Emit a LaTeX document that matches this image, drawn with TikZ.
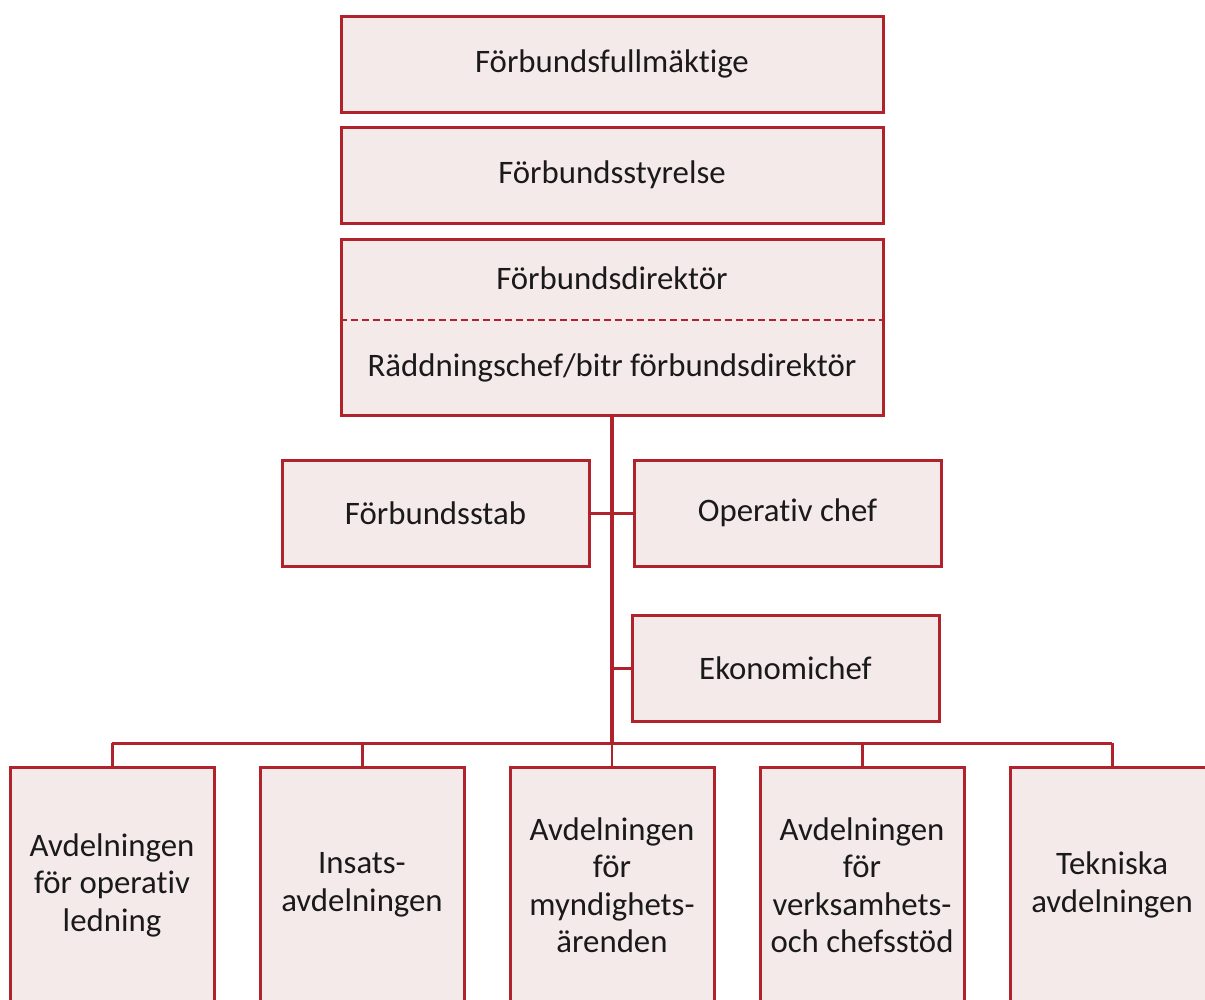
\documentclass[tikz,border=0pt]{standalone}
\usepackage{fontspec}
\setmainfont{Carlito}[Ligatures=NoCommon]
\usetikzlibrary{positioning}
\definecolor{kant}{HTML}{B0222C}
\definecolor{fyll}{HTML}{F5EAEA}
\definecolor{textgra}{HTML}{1A1A1A}
\tikzset{box/.style={draw=kant, fill=fyll, line width=3pt, text=textgra, align=center, inner sep=0pt, font=\fontsize{32.8}{37.5}\selectfont}}
\tikzset{topbox/.style={box, minimum width=542pt, minimum height=96pt}}
\tikzset{midbox/.style={box, minimum width=307pt, minimum height=106pt}}
\tikzset{avd/.style={box, minimum width=204pt, minimum height=236pt}}
\tikzset{lank/.style={draw=kant, line width=3pt}}
\tikzset{stam/.style={draw=kant, line width=4pt}}
\tikzset{etikett/.style={text=textgra, inner sep=0pt, font=\fontsize{32.8}{37.5}\selectfont}}

\begin{document}
\begin{tikzpicture}[x=1pt, y=-1pt]
        \useasboundingbox (0,0) rectangle (1205,999);
        \clip (0,0) rectangle (1205,999);

        % ledning
        \node[topbox] (fm) at (612,64) {Förbundsfullmäktige};
        \node[topbox, below=12pt of fm] (fs) {Förbundsstyrelse};
        \node[topbox, minimum height=176pt, below=13pt of fs] (fd) {};
        \node[etikett] (fdtext) at (612,278) {Förbundsdirektör};
        \node[etikett] (rctext) at (612,368) {Räddningschef/bitr förbundsdirektör};
        \coordinate (delning) at (612,320);
        \draw[draw=kant, line width=2pt, dash pattern=on 7pt off 4pt] (fd.west |- delning) -- (fd.east |- delning);

        % stab
        \node[midbox] (stab) at (435.5,513) {Förbundsstab};
        \node[midbox] (opchef) at (787.5,513) {Operativ chef};
        \node[midbox] (ekchef) at (785.5,668) {Ekonomichef};

        % avdelningar
        \node[avd] (a3) at (612,885) {Avdelningen\\för\\myndighets-\\ärenden};
        \node[avd, left=43pt of a3] (a2) {Insats-\\avdelningen};
        \node[avd, left=43pt of a2] (a1) {Avdelningen\\för operativ\\ledning};
        \node[avd, right=43pt of a3] (a4) {Avdelningen\\för\\verksamhets-\\och chefsstöd};
        \node[avd, right=43pt of a4] (a5) {Tekniska\\avdelningen};

        \coordinate (buss) at (612,743);

        \draw[lank] (stab.east) -- (opchef.west);
        \draw[lank] (fd.south |- ekchef.west) -- (ekchef.west);
        \draw[lank] (a1.north |- buss) -- (a5.north |- buss);
        \foreach \i in {1,2,4,5}
            \draw[lank] (a\i.north |- buss) -- (a\i.north);
        \draw[draw=kant, line width=1.2pt] (buss) -- (a3.north);
        \draw[stam] (fd.south) -- (buss);
\end{tikzpicture}
\end{document}
